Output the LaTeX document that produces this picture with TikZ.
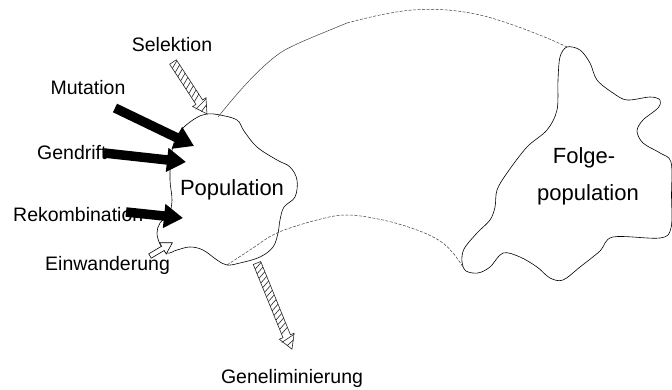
\documentclass[tikz,border=0pt]{standalone}
\usepackage{fontspec}
\setmainfont{Liberation Sans}
\usetikzlibrary{arrows.meta}
\tikzset{
  blob/.style={draw=black, line width=0.6pt},
  link/.style={draw=black!75, line width=0.5pt},
  linkdash/.style={draw=black!75, line width=0.5pt, dash pattern=on 3pt off 1.5pt},
  hatch/.style={draw=black!85, line width=0.6pt},
  bigarrow/.style={line width=9.5pt, -{Triangle[width=23pt,length=19pt]}},
  lbl/.style={font=\fontsize{19.5}{22}\selectfont, inner sep=0pt},
  biglbl/.style={font=\fontsize{22}{27}\selectfont, inner sep=0pt, align=center}
}
\newcommand\hatcharrow[3]{%
  \begin{scope}[shift={#1},rotate=#2]
    \pgfmathsetmacro\hL{#3-14}
    \pgfmathtruncatemacro\nh{(#3-17)/5}
    \draw[hatch, fill=white] (0,-4) -- (\hL,-4) -- (\hL,-8) -- (#3,0) -- (\hL,8) -- (\hL,4) -- (0,4) -- cycle;
    \foreach \k in {1,...,\nh} {\draw[hatch] ({5*\k-4},-4) -- ({5*\k},4);}
    \draw[hatch] ({\hL+1},-7.5) -- ({\hL+4},7);
    \draw[hatch] ({\hL+6},-5) -- ({\hL+9},3.5);
  \end{scope}}
\begin{document}
\begin{tikzpicture}[x=1pt,y=-1pt]
\useasboundingbox (0,0) rectangle (672,390);
% population blob
\draw[blob] plot[smooth cycle, tension=0.6] coordinates {
 (207,114) (220,115) (237,120) (244,131) (257,147) (277,160) (290,167) (297,180)
 (295,197) (284,207) (280,220) (278,233) (273,247) (260,257) (240,263) (227,265)
 (217,260) (203,250) (190,247) (177,250) (167,253) (160,244) (157,233) (160,223)
 (169,214) (172,200) (170,180) (171,157) (175,140) (183,128) (196,118)};
% folge blob
\draw[blob] plot[smooth cycle, tension=0.55] coordinates {
 (567,47) (580,50) (590,63) (597,80) (613,93) (627,100) (650,97) (660,100)
 (658,108) (643,120) (637,131) (643,143) (660,153) (671,162) (671.5,195) (671,228)
 (660,238) (613,237) (600,251) (580,267) (563,280) (550,278) (537,267) (520,257)
 (503,253) (490,267) (478,273) (466,271) (462,262) (464,249) (477,233) (490,220)
 (495,207) (497,190) (507,173) (527,147) (547,130) (557,110) (558,80) (560,57)};
% connecting arcs
\coordinate (ua) at (218,117);
\coordinate (um) at (347,23);
\coordinate (ub) at (567,47);
\draw[link] plot[smooth, tension=0.6] coordinates {(ua) (232,100) (247,83) (263,67) (280,53) (297,44) (313,37) (330,30) (um)};
\draw[linkdash] plot[smooth, tension=0.6] coordinates {(um) (380,15) (413,10) (447,10) (480,15) (513,25) (547,38) (ub)};
\coordinate (la) at (227,265);
\coordinate (lb) at (463,267);
\draw[linkdash] plot[smooth, tension=0.6] coordinates {(la) (250,250) (277,233) (317,220) (347,215) (383,220) (417,230) (440,241) (453,253) (lb)};
% labels
\node[biglbl] (pop) at (232,190) {Population};
\node[biglbl] (folge1) at (584,158) {Folge-};
\node[biglbl] (folge2) at (588,195) {population};
\node[lbl] (sel) at (172,45) {Selektion};
\node[lbl] (mut) at (88,88) {Mutation};
\node[lbl, anchor=west] (gen) at (37,153) {Gendrift};
\node[lbl, anchor=west] (rek) at (13,215) {Rekombination};
\node[lbl, anchor=west] (ein) at (45,265) {Einwanderung};
\node[lbl] (elim) at (292,378) {Geneliminierung};
% black arrows
\coordinate (mt) at (115,108);
\coordinate (mh) at (194,146);
\coordinate (gt) at (104,153);
\coordinate (gh) at (186,162);
\coordinate (rt) at (126,212);
\coordinate (rh) at (183,218);
\draw[bigarrow] (mt) -- (mh);
\draw[bigarrow] (gt) -- (gh);
\draw[bigarrow] (rt) -- (rh);
% hatched arrows
\hatcharrow{(173,62)}{-56.8}{62}
\hatcharrow{(257,263)}{-67.9}{93}
% Einwanderung arrow
\begin{scope}[shift={(150,256)},rotate=30.6]
  \draw[line width=0.6pt, fill=white] (0,-2.5) -- (15,-2.5) -- (15,-6.5) -- (26,0) -- (15,6.5) -- (15,2.5) -- (0,2.5) -- cycle;
\end{scope}
\end{tikzpicture}
\end{document}
